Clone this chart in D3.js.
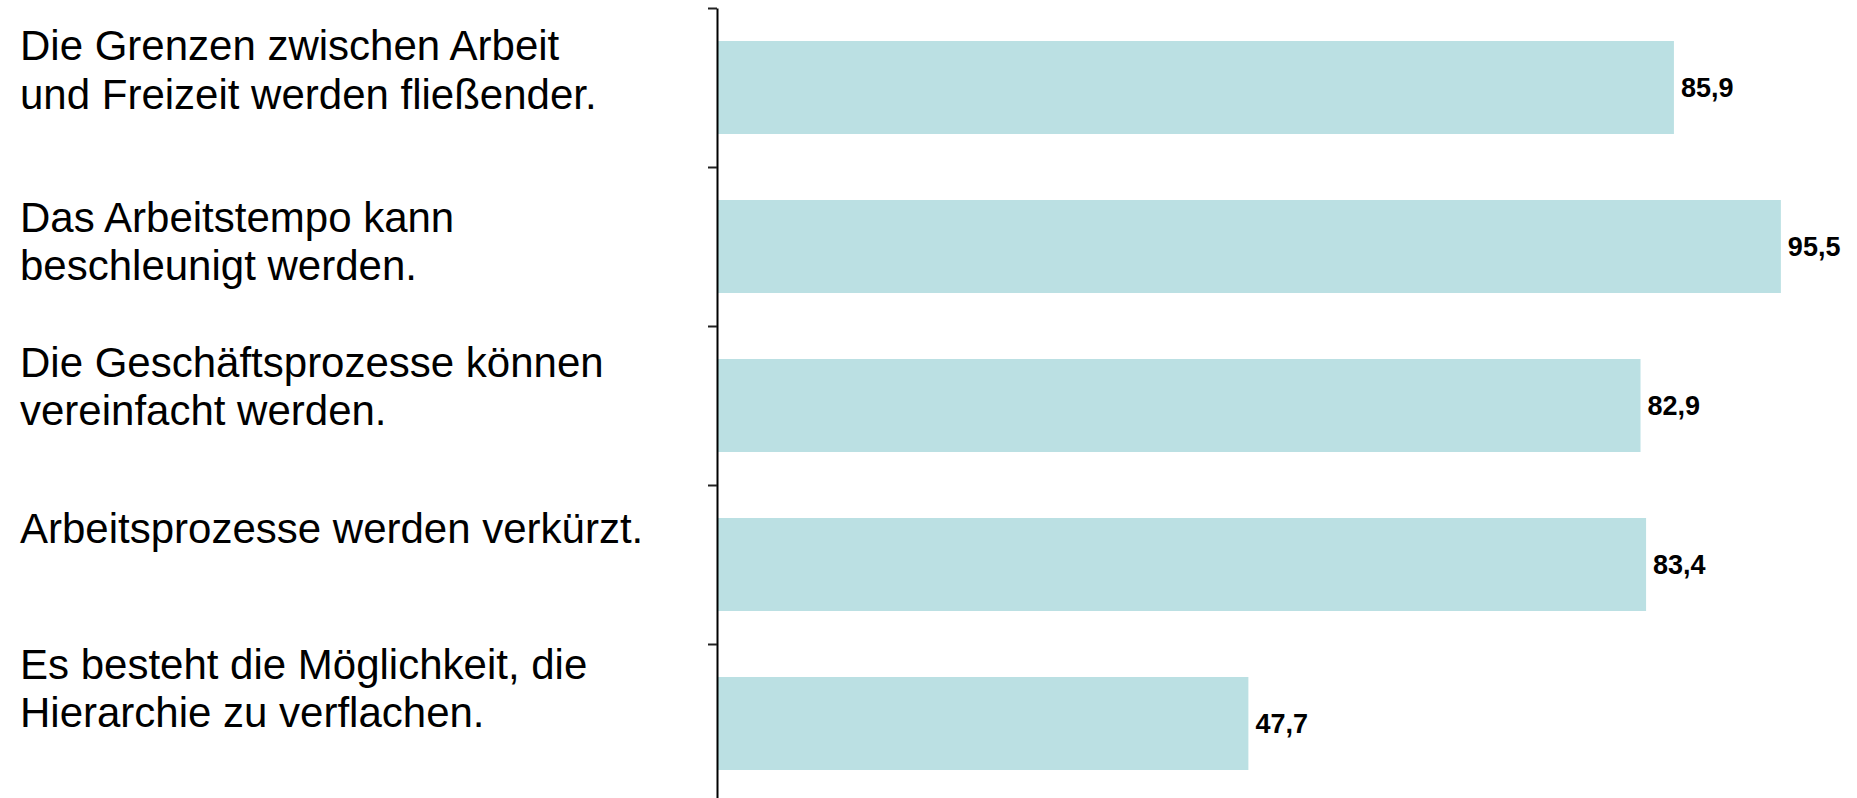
<!DOCTYPE html>
<html>
<head>
<meta charset="utf-8">
<script src="https://cdn.jsdelivr.net/npm/d3@7"></script>
<style>
  html, body { margin: 0; padding: 0; background: #fff; }
  svg { display: block; }
</style>
</head>
<body>
<svg id="chart" width="1857" height="798"></svg>
<script>
const categories = [
  "Die Grenzen zwischen Arbeit\nund Freizeit werden fließender.",
  "Das Arbeitstempo kann\nbeschleunigt werden.",
  "Die Geschäftsprozesse können\nvereinfacht werden.",
  "Arbeitsprozesse werden verkürzt.",
  "Es besteht die Möglichkeit, die\nHierarchie zu verflachen."
];
const values = [85.9, 95.5, 82.9, 83.4, 47.7];
const valueLabels = ["85,9", "95,5", "82,9", "83,4", "47,7"];

// layout (not data)
const labelDy = [-27.5, -15, -29, -21.5, -45];

const svg = d3.select("#chart");
const axisX = 717;

const x = d3.scaleLinear().domain([0, 100]).range([axisX, axisX + 1114]);
const y = d3.scaleBand().domain(categories).range([8, 803])
  .paddingInner(0.415).paddingOuter(0.2075);

// bars
svg.append("g").selectAll("rect").data(categories).join("rect")
  .attr("x", x(0))
  .attr("y", d => y(d))
  .attr("width", (d, i) => x(values[i]) - x(0))
  .attr("height", y.bandwidth())
  .attr("fill", "#BBE0E3");

// axis with ticks at band boundaries
const bscale = d3.scaleLinear().domain([0, categories.length]).range([8, 803]);
const axis = d3.axisLeft(bscale)
  .tickValues(d3.range(categories.length + 1))
  .tickFormat("")
  .tickSizeInner(9)
  .tickSizeOuter(0);
const gAxis = svg.append("g").attr("transform", `translate(${axisX},0)`).call(axis);
gAxis.select(".domain").attr("stroke", "#000").attr("stroke-width", 2);
gAxis.selectAll(".tick line").attr("stroke", "#222").attr("stroke-width", 2);

// value labels
svg.append("g").selectAll("text").data(categories).join("text")
  .attr("x", (d, i) => x(values[i]) + 7)
  .attr("y", d => y(d) + y.bandwidth() / 2 + 9)
  .attr("font-family", "'Liberation Sans', Arial, sans-serif")
  .attr("font-weight", "bold")
  .attr("font-size", 27)
  .attr("fill", "#000")
  .text((d, i) => valueLabels[i]);

// category labels
const cl = svg.append("g").selectAll("text").data(categories).join("text")
  .attr("x", 20)
  .attr("y", (d, i) => y(d) + y.bandwidth() / 2 + labelDy[i])
  .attr("font-family", "'Liberation Sans', Arial, sans-serif")
  .attr("font-size", 42)
  .attr("fill", "#000");
cl.selectAll("tspan").data(d => d.split("\n")).join("tspan")
  .attr("x", 20)
  .attr("dy", (d, j) => j === 0 ? 0 : 48.5)
  .text(d => d);
</script>
</body>
</html>
